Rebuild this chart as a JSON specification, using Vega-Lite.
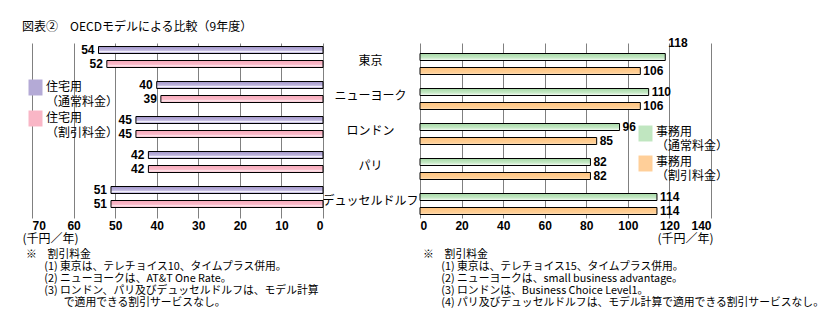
{
  "$schema": "https://vega.github.io/schema/vega-lite/v6.json",
  "autosize": {"type": "pad"},
  "padding": {"left": 22, "top": 21, "right": 0, "bottom": 0},
  "background": "white",
  "title": {"text": "図表②　OECDモデルによる比較（9年度）", "anchor": "start", "dx": -10, "offset": 3, "font": "Noto Sans CJK JP", "fontSize": 12, "fontWeight": "normal", "color": "black", "frame": "group"},
  "datasets": {
    "res": [
      {"city": "東京", "type": "住宅用通常", "value": 54},
      {"city": "東京", "type": "住宅用割引", "value": 52},
      {"city": "ニューヨーク", "type": "住宅用通常", "value": 40},
      {"city": "ニューヨーク", "type": "住宅用割引", "value": 39},
      {"city": "ロンドン", "type": "住宅用通常", "value": 45},
      {"city": "ロンドン", "type": "住宅用割引", "value": 45},
      {"city": "パリ", "type": "住宅用通常", "value": 42},
      {"city": "パリ", "type": "住宅用割引", "value": 42},
      {"city": "デュッセルドルフ", "type": "住宅用通常", "value": 51},
      {"city": "デュッセルドルフ", "type": "住宅用割引", "value": 51}
    ],
    "biz": [
      {"city": "東京", "type": "事務用通常", "value": 118},
      {"city": "東京", "type": "事務用割引", "value": 106},
      {"city": "ニューヨーク", "type": "事務用通常", "value": 110},
      {"city": "ニューヨーク", "type": "事務用割引", "value": 106},
      {"city": "ロンドン", "type": "事務用通常", "value": 96},
      {"city": "ロンドン", "type": "事務用割引", "value": 85},
      {"city": "パリ", "type": "事務用通常", "value": 82},
      {"city": "パリ", "type": "事務用割引", "value": 82},
      {"city": "デュッセルドルフ", "type": "事務用通常", "value": 114},
      {"city": "デュッセルドルフ", "type": "事務用割引", "value": 114}
    ]
  },
  "bounds": "flush",
  "spacing": 97,
  "resolve": {"scale": {"color": "independent", "x": "independent"}, "legend": {"color": "independent"}},
  "hconcat": [
    {
      "width": 291,
      "height": 175,
      "data": {"name": "res"},
      "title": {"text": ["※　割引料金", "\u200b　\u2002\u2009(1) 東京は、テレチョイス10、タイムプラス併用。", "\u200b　\u2002\u2009(2) ニューヨークは、AT&T One Rate。", "\u200b　\u2002\u2009(3) ロンドン、パリ及びデュッセルドルフは、モデル計算", "\u200b　　　\u2002で適用できる割引サービスなし。"], "orient": "bottom", "anchor": "start", "frame": "group", "offset": 5, "dx": -6, "baseline": "top", "lineHeight": 12, "font": "Noto Sans CJK JP", "fontSize": 10.8, "fontWeight": "normal", "color": "black"},
      "encoding": {
        "y": {"field": "city", "type": "nominal", "sort": ["東京", "ニューヨーク", "ロンドン", "パリ", "デュッセルドルフ"], "axis": null, "scale": {"paddingInner": 0.2, "paddingOuter": 0.1}},
        "yOffset": {"field": "type", "type": "nominal", "sort": ["住宅用通常", "住宅用割引"], "scale": {"paddingInner": 0, "paddingOuter": 0}},
        "x": {"field": "value", "type": "quantitative", "scale": {"domain": [0, 70], "reverse": true, "nice": false},
          "axis": {"values": [0, 10, 20, 30, 40, 50, 60, 70], "grid": true, "gridColor": "#808080", "gridOpacity": 1, "domain": false, "ticks": false, "labelFont": "Liberation Sans", "labelFontWeight": "bold", "labelFontSize": 12, "labelColor": "black", "labelPadding": 2,
            "title": "(千円／年)", "titleFont": "Noto Sans CJK JP", "titleFontSize": 12, "titleFontWeight": "normal", "titleColor": "black", "titleAlign": "left", "titleBaseline": "top", "titleX": -10, "titleY": 15}}
      },
      "layer": [
        {"mark": {"type": "bar", "opacity": 0},
          "encoding": {"color": {"field": "type", "type": "nominal", "sort": ["住宅用通常", "住宅用割引"],
            "scale": {"domain": ["住宅用通常", "住宅用割引"], "range": ["#b4aad6", "#f9b6c6"]},
            "legend": {"orient": "none", "legendX": -4, "legendY": 37, "title": null, "symbolType": "M-1,-1.14H1V1.14H-1Z", "symbolSize": 196, "symbolStrokeColor": "black", "symbolStrokeWidth": 1, "symbolOpacity": 1, "labelFont": "Noto Sans CJK JP", "labelFontSize": 12, "labelColor": "black", "labelBaseline": "alphabetic", "labelOffset": 3, "rowPadding": 0, "padding": 0,
              "labelExpr": "datum.label == '住宅用通常' ? ['住宅用', '（通常料金）'] : ['住宅用', '（割引料金）']",
              "encode": {"labels": {"update": {"dy": {"value": 3}, "lineHeight": {"value": 15}}},
                "symbols": {"update": {"fill": {"signal": "datum.value == '住宅用通常' ? {gradient: 'linear', x1: 0, y1: 0, x2: 0, y2: 1, stops: [{offset: 0, color: '#a194c9'}, {offset: 0.55, color: '#c0b7df'}, {offset: 0.72, color: '#f4f2fa'}, {offset: 0.85, color: '#cdc5e6'}, {offset: 1, color: '#b0a5d4'}]} : {gradient: 'linear', x1: 0, y1: 0, x2: 0, y2: 1, stops: [{offset: 0, color: '#f7a8ba'}, {offset: 0.55, color: '#fab9c8'}, {offset: 0.75, color: '#fde6ec'}, {offset: 1, color: '#f8b0c1'}]}"}}}}}}}},
        {"transform": [{"filter": "datum.type == '住宅用通常'"}],
          "mark": {"type": "bar", "stroke": "black", "strokeWidth": 1, "color": {"gradient": "linear", "x1": 0, "y1": 0, "x2": 0, "y2": 1, "stops": [{"offset": 0, "color": "#a194c9"}, {"offset": 0.55, "color": "#c0b7df"}, {"offset": 0.72, "color": "#f4f2fa"}, {"offset": 0.85, "color": "#cdc5e6"}, {"offset": 1, "color": "#b0a5d4"}]}}},
        {"transform": [{"filter": "datum.type == '住宅用割引'"}],
          "mark": {"type": "bar", "stroke": "black", "strokeWidth": 1, "color": {"gradient": "linear", "x1": 0, "y1": 0, "x2": 0, "y2": 1, "stops": [{"offset": 0, "color": "#f7a8ba"}, {"offset": 0.55, "color": "#fab9c8"}, {"offset": 0.75, "color": "#fde6ec"}, {"offset": 1, "color": "#f8b0c1"}]}}},
        {"mark": {"type": "text", "align": "right", "dx": -4, "font": "Liberation Sans", "fontWeight": "bold", "fontSize": 12, "color": "black"},
          "encoding": {"text": {"field": "value", "type": "quantitative"}}}
      ]
    },
    {
      "width": 291,
      "height": 175,
      "data": {"name": "biz"},
      "title": {"text": ["※　割引料金", "\u200b　\u2002\u2009(1) 東京は、テレチョイス15、タイムプラス併用。", "\u200b　\u2002\u2009(2) ニューヨークは、small business advantage。", "\u200b　\u2002\u2009(3) ロンドンは、Business Choice Level1。", "\u200b　\u2002\u2009(4) パリ及びデュッセルドルフは、モデル計算で適用できる割引サービスなし。"], "orient": "bottom", "anchor": "start", "frame": "group", "offset": 5, "dx": 3, "baseline": "top", "lineHeight": 12, "font": "Noto Sans CJK JP", "fontSize": 10.8, "fontWeight": "normal", "color": "black"},
      "encoding": {
        "y": {"field": "city", "type": "nominal", "sort": ["東京", "ニューヨーク", "ロンドン", "パリ", "デュッセルドルフ"], "scale": {"paddingInner": 0.2, "paddingOuter": 0.1},
          "axis": {"title": null, "domain": false, "ticks": false, "tickSize": 0, "labelAlign": "center", "labelPadding": 50, "labelFont": "Noto Sans CJK JP", "labelFontSize": 12, "labelColor": "black", "labelLimit": 200}},
        "yOffset": {"field": "type", "type": "nominal", "sort": ["事務用通常", "事務用割引"], "scale": {"paddingInner": 0, "paddingOuter": 0}},
        "x": {"field": "value", "type": "quantitative", "scale": {"domain": [0, 140], "nice": false},
          "axis": {"values": [0, 20, 40, 60, 80, 100, 120, 140], "grid": true, "gridColor": "#808080", "gridOpacity": 1, "domain": false, "ticks": false, "labelFont": "Liberation Sans", "labelFontWeight": "bold", "labelFontSize": 12, "labelColor": "black", "labelPadding": 2,
            "title": "(千円／年)", "titleFont": "Noto Sans CJK JP", "titleFontSize": 12, "titleFontWeight": "normal", "titleColor": "black", "titleAlign": "left", "titleBaseline": "top", "titleX": 237, "titleY": 15}}
      },
      "layer": [
        {"mark": {"type": "bar", "opacity": 0},
          "encoding": {"color": {"field": "type", "type": "nominal", "sort": ["事務用通常", "事務用割引"],
            "scale": {"domain": ["事務用通常", "事務用割引"], "range": ["#c0e6c0", "#ffcf99"]},
            "legend": {"orient": "none", "legendX": 218, "legendY": 83, "title": null, "symbolType": "M-1,-1.14H1V1.14H-1Z", "symbolSize": 196, "symbolStrokeColor": "black", "symbolStrokeWidth": 1, "symbolOpacity": 1, "labelFont": "Noto Sans CJK JP", "labelFontSize": 12, "labelColor": "black", "labelBaseline": "alphabetic", "labelOffset": 3, "rowPadding": 1, "padding": 0,
              "labelExpr": "datum.label == '事務用通常' ? ['事務用', '（通常料金）'] : ['事務用', '（割引料金）']",
              "encode": {"labels": {"update": {"dy": {"value": 2}, "lineHeight": {"value": 14}}},
                "symbols": {"update": {"fill": {"signal": "datum.value == '事務用通常' ? {gradient: 'linear', x1: 0, y1: 0, x2: 0, y2: 1, stops: [{offset: 0, color: '#a3d7a3'}, {offset: 0.6, color: '#c6e9c6'}, {offset: 0.9, color: '#eef9ee'}, {offset: 1, color: '#cfeccf'}]} : {gradient: 'linear', x1: 0, y1: 0, x2: 0, y2: 1, stops: [{offset: 0, color: '#ffc47f'}, {offset: 0.7, color: '#ffcf95'}, {offset: 1, color: '#ffe3c2'}]}"}}}}}}}},
        {"transform": [{"filter": "datum.type == '事務用通常'"}],
          "mark": {"type": "bar", "stroke": "black", "strokeWidth": 1, "color": {"gradient": "linear", "x1": 0, "y1": 0, "x2": 0, "y2": 1, "stops": [{"offset": 0, "color": "#a3d7a3"}, {"offset": 0.6, "color": "#c6e9c6"}, {"offset": 0.9, "color": "#eef9ee"}, {"offset": 1, "color": "#cfeccf"}]}}},
        {"transform": [{"filter": "datum.type == '事務用割引'"}],
          "mark": {"type": "bar", "stroke": "black", "strokeWidth": 1, "color": {"gradient": "linear", "x1": 0, "y1": 0, "x2": 0, "y2": 1, "stops": [{"offset": 0, "color": "#ffc47f"}, {"offset": 0.7, "color": "#ffcf95"}, {"offset": 1, "color": "#ffe3c2"}]}}},
        {"transform": [{"filter": "datum.value != 118"}],
          "mark": {"type": "text", "align": "left", "dx": 3, "font": "Liberation Sans", "fontWeight": "bold", "fontSize": 12, "color": "black"},
          "encoding": {"text": {"field": "value", "type": "quantitative"}}},
        {"transform": [{"filter": "datum.value == 118"}],
          "mark": {"type": "text", "align": "left", "dx": 3, "dy": -14, "font": "Liberation Sans", "fontWeight": "bold", "fontSize": 12, "color": "black"},
          "encoding": {"text": {"field": "value", "type": "quantitative"}}}
      ]
    }
  ],
  "config": {"view": {"stroke": null}}
}
